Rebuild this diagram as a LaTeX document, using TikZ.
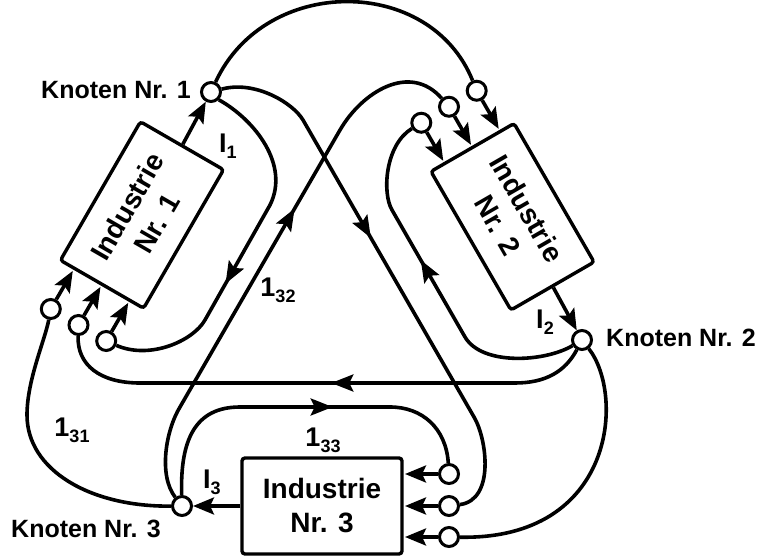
\documentclass[tikz,border=0pt]{standalone}
\usepackage{fontspec}
\setmainfont{Liberation Sans}
\usetikzlibrary{arrows.meta,calc,decorations.markings}
\newcommand{\flowlbl}[2]{#1\raisebox{-6pt}{\fontsize{18}{18}\selectfont #2}}
\tikzset{
  conn/.style={line width=3.6pt},
  knot/.style={circle, draw, line width=3pt, fill=white, minimum size=19pt, inner sep=0pt},
  port/.style={knot},
  ind/.style={draw, line width=3.4pt, rounded corners=3pt, minimum width=160pt, minimum height=96pt,
    align=center, font=\bfseries\fontsize{28}{34}\selectfont, inner sep=0pt},
  tip/.style={-{Stealth[length=21pt,width=17pt,inset=4pt]}},
  midarrow/.style={postaction={decorate}, decoration={markings,
    mark=at position #1 with {\arrow{Stealth[length=22pt,width=17pt,inset=4pt]}}}},
  knlabel/.style={font=\bfseries\fontsize{25}{28}\selectfont, inner sep=0pt},
  flabel/.style={font=\bfseries\fontsize{27}{28}\selectfont, inner sep=0pt},
}
\begin{document}
\begin{tikzpicture}[x=1pt,y=-1pt]
\useasboundingbox (0,0) rectangle (758,556);
% Industrie 1
\begin{scope}[shift={(142,215)}, rotate=60]
  \node[ind, rotate=60] (ind1) at (0,0) {Industrie\\Nr. 1};
  \node[port] (i1a) at (-127,-32) {};
  \node[port] (i1b) at (-127,0) {};
  \node[port] (i1c) at (-127,32) {};
  \coordinate (t1a) at (-83,-32);
  \coordinate (t1b) at (-83,0);
  \coordinate (t1c) at (-83,32);
\end{scope}
% Industrie 2
\begin{scope}[shift={(512.5,216.75)}, rotate=-60]
  \node[ind, rotate=-60] (ind2) at (0,0) {Industrie\\Nr. 2};
  \node[port] (i2a) at (-127,32) {};
  \node[port] (i2b) at (-127,0) {};
  \node[port] (i2c) at (-127,-32) {};
  \coordinate (t2a) at (-83,32);
  \coordinate (t2b) at (-83,0);
  \coordinate (t2c) at (-83,-32);
\end{scope}
% Industrie 3
\begin{scope}[shift={(322,506)}]
  \node[ind] (ind3) at (0,0) {Industrie\\Nr. 3};
  \node[port] (i3a) at (127,-32) {};
  \node[port] (i3b) at (127,0) {};
  \node[port] (i3c) at (127,31) {};
  \coordinate (t3a) at (83,-32);
  \coordinate (t3b) at (83,0);
  \coordinate (t3c) at (83,31);
\end{scope}
% Knoten
\node[knot] (k1) at (211,92) {};
\node[knot] (k2) at (582,340) {};
\node[knot] (k3) at (182,506) {};
\node[knlabel, anchor=east] (lk1) at (191,90) {Knoten Nr. 1};
\node[knlabel, anchor=west] (lk2) at (606,338) {Knoten Nr. 2};
\node[knlabel] (lk3) at (86,529) {Knoten Nr. 3};
% flow labels
\node[flabel] (l1) at (228,146) {\flowlbl{I}{1}};
\node[flabel] (l2) at (545,322) {\flowlbl{I}{2}};
\node[flabel] (l3) at (212,482) {\flowlbl{I}{3}};
\node[flabel] (l32) at (278,290) {\flowlbl{1}{32}};
\node[flabel] (l31) at (72,430) {\flowlbl{1}{31}};
\node[flabel] (l33) at (323,440) {\flowlbl{1}{33}};
% outputs
\draw[conn, tip] (ind1.east) -- (k1);
\draw[conn, tip] (ind2.east) -- (k2);
\draw[conn, tip] (ind3.west) -- (k3);
% input ports
\draw[conn, tip] (i1a) -- (t1a);
\draw[conn, tip] (i1b) -- (t1b);
\draw[conn, tip] (i1c) -- (t1c);
\draw[conn, tip] (i2a) -- (t2a);
\draw[conn, tip] (i2b) -- (t2b);
\draw[conn, tip] (i2c) -- (t2c);
\draw[conn, tip] (i3a) -- (t3a);
\draw[conn, tip] (i3b) -- (t3b);
\draw[conn, tip] (i3c) -- (t3c);
% Knoten 1
\draw[conn] (k1) .. controls (265,-25) and (430,-25) .. (i2c);
\draw[conn, midarrow=228pt] (k1.15) .. controls (255,80) and (293,103) .. (303,120)
  -- (474,417) .. controls (487,439) and (495,500) .. (i3b);
\draw[conn, midarrow=219pt] (k1.-45) .. controls (255,120) and (290,165) .. (270,205)
  -- (205,320) .. controls (193,341) and (150,360) .. (i1c);
% Knoten 2
\draw[conn, midarrow=205pt] (k2) .. controls (545,362) and (482,366) .. (465,337)
  -- (392,210) .. controls (382,193) and (385,145) .. (i2a);
\draw[conn, midarrow=258pt] (k2) .. controls (565,372) and (545,383) .. (515,383)
  -- (140,383) .. controls (100,383) and (77,365) .. (i1b);
\draw[conn] (k2) .. controls (625,395) and (615,540) .. (i3c);
% Knoten 3
\draw[conn] (k3) .. controls (90,507) and (27,470) .. (27,415)
  .. controls (27,380) and (45,340) .. (i1a);
\draw[conn, midarrow=324pt] (k3) .. controls (158,475) and (166,430) .. (180,407)
  -- (340,130) .. controls (362,92) and (410,62) .. (i2b);
\draw[conn, midarrow=214pt] (k3) .. controls (180,440) and (195,407) .. (240,407)
  -- (390,407) .. controls (422,407) and (446,428) .. (i3a);
\end{tikzpicture}
\end{document}
